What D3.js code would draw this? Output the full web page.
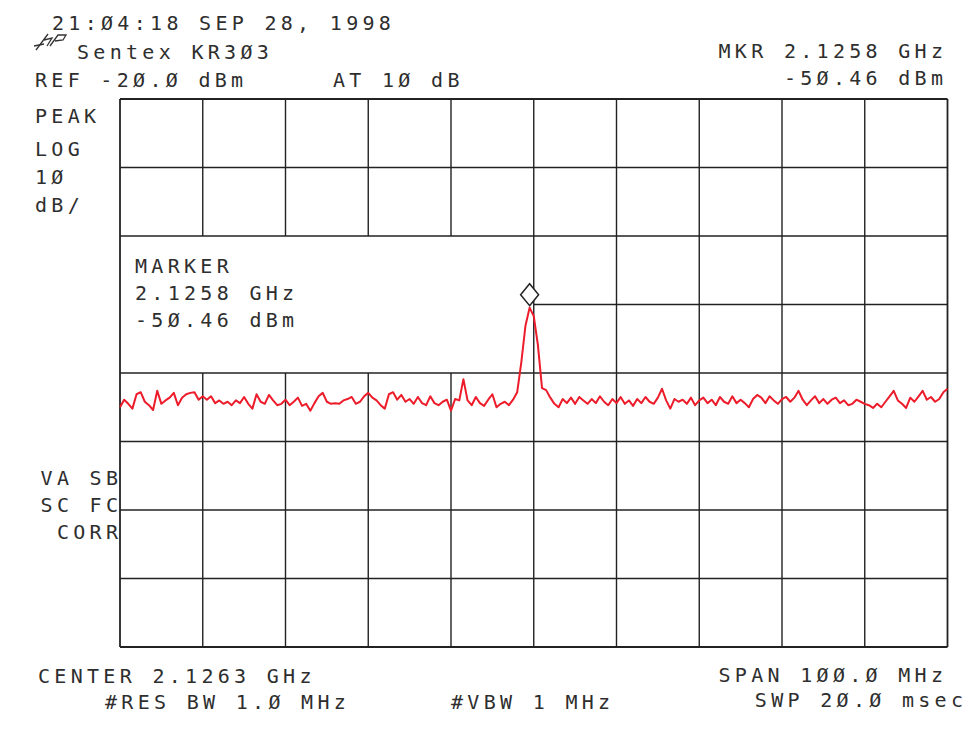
<!DOCTYPE html>
<html>
<head>
<meta charset="utf-8">
<script src="https://cdn.jsdelivr.net/npm/d3@7"></script>
<style>
  body { margin: 0; background: #fff; }
  text { font-family: "DejaVu Sans Mono", monospace; font-size: 20px; fill: #2e2e2e; letter-spacing: 4.3px; }
</style>
</head>
<body>
<script>
// instrument settings
const centerGHz = 2.1263;
const spanGHz = 0.1;
const refLevel = -20;
const dbPerDiv = 10;
const xDivs = 10;
const yDivs = 8;

const markerGHz = 2.1258;
const markerDbm = -50.46;

// trace, dBm, 201 sweep points across the span
const trace = [
  -65.0, -63.9, -64.5, -65.2, -63.1, -62.8, -64.2, -64.7, -65.4, -62.6,
  -64.5, -64.0, -63.6, -62.9, -64.7, -63.6, -63.1, -62.9, -62.8, -63.9,
  -63.4, -63.9, -63.4, -64.4, -64.0, -64.5, -64.2, -64.7, -64.0, -64.4,
  -63.5, -64.5, -65.2, -63.1, -64.2, -64.5, -63.2, -64.0, -64.7, -64.5,
  -63.9, -64.7, -64.2, -63.6, -64.8, -64.5, -65.5, -64.4, -63.4, -62.9,
  -64.2, -64.5, -64.4, -64.5, -64.0, -63.8, -63.5, -64.5, -64.2, -63.4,
  -62.9, -63.6, -64.0, -64.7, -65.2, -63.1, -62.8, -63.9, -63.2, -64.2,
  -63.8, -64.5, -63.5, -64.4, -64.7, -63.4, -64.4, -64.7, -64.2, -63.9,
  -65.5, -63.8, -64.0, -60.9, -64.0, -64.7, -63.5, -64.4, -64.8, -63.9,
  -63.1, -65.0, -64.5, -64.2, -64.7, -63.9, -62.8, -58.4, -53.1, -50.46,
  -51.7, -55.9, -62.2, -62.5, -63.6, -64.5, -65.0, -63.8, -64.4, -63.6,
  -64.5, -63.5, -64.0, -64.5, -63.8, -64.4, -63.4, -64.2, -64.7, -63.8,
  -64.4, -63.5, -64.5, -64.0, -64.8, -63.8, -64.4, -63.5, -64.2, -64.5,
  -63.6, -62.3, -64.0, -65.2, -63.8, -64.2, -63.9, -64.5, -63.6, -64.7,
  -64.0, -63.6, -64.4, -63.9, -64.7, -63.5, -64.2, -64.5, -63.4, -64.4,
  -63.9, -64.4, -65.0, -63.8, -63.2, -63.6, -64.4, -63.4, -64.0, -64.5,
  -63.8, -63.5, -64.2, -63.6, -62.6, -63.9, -64.7, -64.0, -63.4, -64.4,
  -63.8, -64.5, -63.9, -63.6, -64.4, -64.0, -64.7, -64.5, -63.9, -64.2,
  -64.5, -64.7, -65.1, -64.5, -65.0, -64.2, -63.4, -62.6, -64.0, -64.5,
  -65.1, -63.6, -64.2, -63.4, -62.6, -63.9, -63.5, -64.2, -63.8, -62.8,
  -62.3
];

// annotation lines
const topLeft = ["21:Ø4:18 SEP 28, 1998", "Sentex KR3Ø3", "REF -2Ø.Ø dBm"];
const attenText = "AT 1Ø dB";
const markerTop = ["MKR 2.1258 GHz", "-5Ø.46 dBm"];
const sideTop = ["PEAK", "LOG", "1Ø", "dB/"];
const sideBottom = ["VA SB", "SC FC", "CORR"];
const markerBox = ["MARKER", "2.1258 GHz", "-5Ø.46 dBm"];
const bottomLeft = ["CENTER 2.1263 GHz", "#RES BW 1.Ø MHz"];
const vbwText = "#VBW 1 MHz";
const bottomRight = ["SPAN 1ØØ.Ø MHz", "SWP 2Ø.Ø msec"];

const W = 980, H = 749;
const plotL = 120, plotR = 947.5, plotT = 99, plotB = 647;
const ls = 4.3;

const startGHz = centerGHz - spanGHz / 2;
const stopGHz = centerGHz + spanGHz / 2;
const step = spanGHz / (trace.length - 1);

const x = d3.scaleLinear().domain([startGHz, stopGHz]).range([plotL, plotR]);
const y = d3.scaleLinear().domain([refLevel - dbPerDiv * yDivs, refLevel]).range([plotB, plotT]);

const svg = d3.select("body").append("svg")
  .attr("width", W)
  .attr("height", H);

const xTicks = d3.range(xDivs + 1).map(i => startGHz + i * spanGHz / xDivs);
const yTicks = d3.range(yDivs + 1).map(i => refLevel - i * dbPerDiv);

// marker annotation box covers the grid: cols 0-5, rows 2-4
const boxX1 = xTicks[5], boxYTop = yTicks[2], boxYBot = yTicks[4];

const grid = svg.append("g")
  .attr("stroke", "#222")
  .attr("stroke-width", 1.4);

xTicks.forEach((f, i) => {
  if (i > 0 && i < 5) {
    grid.append("line").attr("x1", x(f)).attr("x2", x(f)).attr("y1", y(refLevel)).attr("y2", y(boxYTop));
    grid.append("line").attr("x1", x(f)).attr("x2", x(f)).attr("y1", y(boxYBot)).attr("y2", y(yTicks[yDivs]));
  } else {
    grid.append("line").attr("x1", x(f)).attr("x2", x(f)).attr("y1", y(refLevel)).attr("y2", y(yTicks[yDivs]))
      .attr("stroke-width", (i === 0 || i === xDivs) ? 1.8 : 1.4);
  }
});

yTicks.forEach((d, i) => {
  const x0 = (i === 3) ? x(boxX1) : x(startGHz);
  grid.append("line").attr("x1", x0).attr("x2", x(stopGHz)).attr("y1", y(d)).attr("y2", y(d))
    .attr("stroke-width", (i === 0 || i === yDivs) ? 1.8 : 1.4);
});

// trace
const line = d3.line()
  .x((d, i) => x(startGHz + i * step))
  .y(d => y(d));

svg.append("path")
  .datum(trace)
  .attr("d", line)
  .attr("fill", "none")
  .attr("stroke", "#ec1c2a")
  .attr("stroke-width", 2)
  .attr("stroke-linejoin", "round");

// marker diamond sits on top of the marker point
const mx = x(markerGHz), my = y(markerDbm);
svg.append("path")
  .attr("d", `M${mx},${my - 2} L${mx + 9},${my - 13} L${mx},${my - 24} L${mx - 9},${my - 13} Z`)
  .attr("fill", "#fff")
  .attr("stroke", "#222")
  .attr("stroke-width", 1.5);

// text
function put(str, tx, ty, anchor) {
  svg.append("text")
    .attr("x", anchor === "end" ? tx + ls : tx)
    .attr("y", ty)
    .attr("text-anchor", anchor || "start")
    .text(str);
}

put(topLeft[0], 52, 30);
put(topLeft[1], 77, 59);
put(topLeft[2], 35, 87);
put(attenText, 333, 87);
put(markerTop[0], 943, 58, "end");
put(markerTop[1], 943, 85, "end");

[123, 156, 184, 212].forEach((ty, i) => put(sideTop[i], 35, ty));
[485, 512, 539].forEach((ty, i) => put(sideBottom[i], 118, ty, "end"));
[273, 300, 327].forEach((ty, i) => put(markerBox[i], 135, ty));

put(bottomLeft[0], 38, 683);
put(bottomLeft[1], 105, 709);
put(vbwText, 451, 709);
put(bottomRight[0], 943, 682, "end");
put(bottomRight[1], 963, 707, "end");

// hp logo
const logo = svg.append("g").attr("stroke", "#333").attr("stroke-width", 1.3).attr("fill", "none");
logo.append("path").attr("d", "M36,50 L48,34 M44,40 L52,38 L47,46 M50,46 L58,35 L66,35 L63,40 L55,41");
logo.append("path").attr("d", "M34,46 L44,44");
</script>
</body>
</html>
